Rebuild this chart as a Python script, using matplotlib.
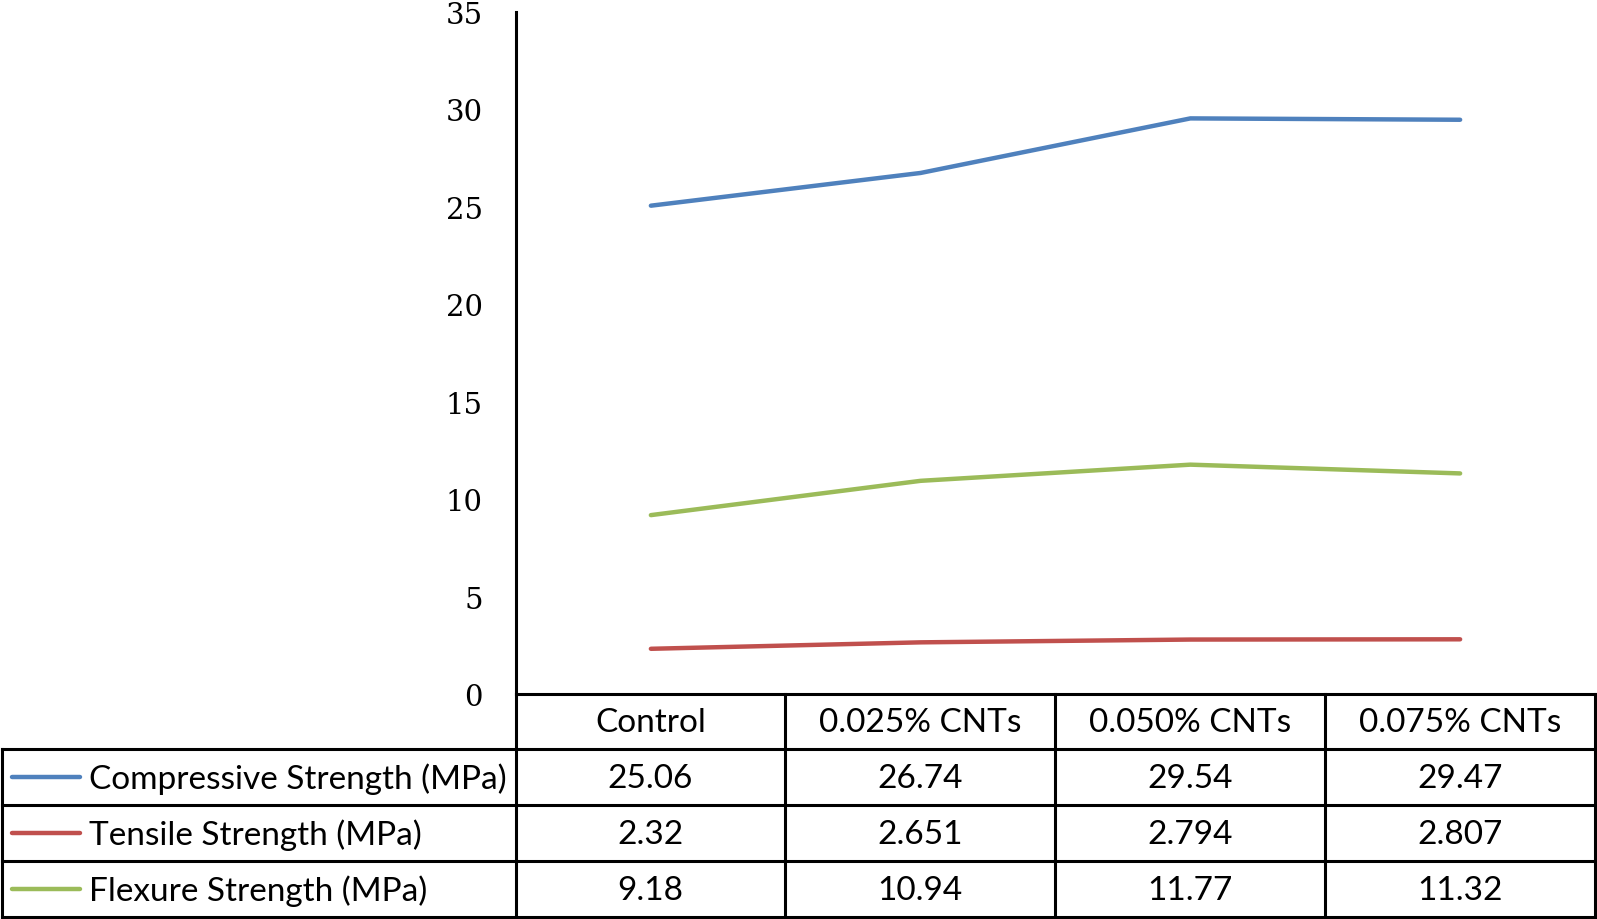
import matplotlib
matplotlib.use("Agg")
import matplotlib.pyplot as plt

categories = ["Control", "0.025% CNTs", "0.050% CNTs", "0.075% CNTs"]
series_names = ["Compressive Strength (MPa)", "Tensile Strength (MPa)", "Flexure Strength (MPa)"]
compressive = [25.06, 26.74, 29.54, 29.47]
tensile = [2.32, 2.651, 2.794, 2.807]
flexure = [9.18, 10.94, 11.77, 11.32]
compressive_txt = ["25.06", "26.74", "29.54", "29.47"]
tensile_txt = ["2.32", "2.651", "2.794", "2.807"]
flexure_txt = ["9.18", "10.94", "11.77", "11.32"]
colors = ["#4F81BD", "#C0504D", "#9BBB59"]
yticks = [0, 5, 10, 15, 20, 25, 30, 35]

W, H = 1597, 920
fig = plt.figure(figsize=(W / 100, H / 100), dpi=100)

# pixel layout
ax_left, ax_right = 516, 1595
y0_px, y35_px = 695, 13
col_edges = [516, 785, 1055, 1325, 1595]
row_edges = [695, 750, 806, 862, 918]
table_left = 2

ax = fig.add_axes([ax_left / W, 1 - y0_px / H, (ax_right - ax_left) / W, (y0_px - y35_px) / H])
xs = list(range(len(categories)))
for vals, c in zip([compressive, tensile, flexure], colors):
    ax.plot(xs, vals, color=c, lw=3.2, solid_capstyle="round")
ax.set_xlim(-0.5, len(categories) - 0.5)
ax.set_ylim(0, 35)
ax.set_yticks(yticks)
ax.set_yticklabels([str(v) for v in yticks], fontfamily="DejaVu Serif", fontsize=21)
ax.tick_params(axis="y", length=0, pad=24)
ax.set_xticks([])
for s in ["top", "right", "bottom"]:
    ax.spines[s].set_visible(False)
ax.spines["left"].set_linewidth(2.2)
ax.spines["left"].set_color("black")
ax.patch.set_alpha(0)

# table overlay in pixel coordinates
tab = fig.add_axes([0, 0, 1, 1])
tab.set_xlim(0, W)
tab.set_ylim(H, 0)
tab.axis("off")
tab.patch.set_alpha(0)
lw = 2.2
tab.plot([col_edges[0], col_edges[-1]], [row_edges[0]] * 2, color="black", lw=lw)
for r in row_edges[1:]:
    tab.plot([table_left, col_edges[-1]], [r, r], color="black", lw=lw)
for cx in col_edges:
    tab.plot([cx, cx], [row_edges[0], row_edges[-1]], color="black", lw=lw)
tab.plot([table_left, table_left], [row_edges[1], row_edges[-1]], color="black", lw=lw)

tfont = dict(fontfamily="Lato", fontsize=24, color="black", va="center")
for i, cat in enumerate(categories):
    cx = (col_edges[i] + col_edges[i + 1]) / 2
    tab.text(cx, (row_edges[0] + row_edges[1]) / 2 + 1, cat, ha="center", **tfont)

rows_txt = [compressive_txt, tensile_txt, flexure_txt]
for j, (name, c, txts) in enumerate(zip(series_names, colors, rows_txt)):
    cy = (row_edges[j + 1] + row_edges[j + 2]) / 2
    tab.plot([12, 80], [cy, cy], color=c, lw=3.2, solid_capstyle="round")
    tab.text(89, cy + 1, name, ha="left", **tfont)
    for i, t in enumerate(txts):
        cx = (col_edges[i] + col_edges[i + 1]) / 2
        tab.text(cx, cy + 1, t, ha="center", **tfont)

fig.savefig("out.png", dpi=100)
